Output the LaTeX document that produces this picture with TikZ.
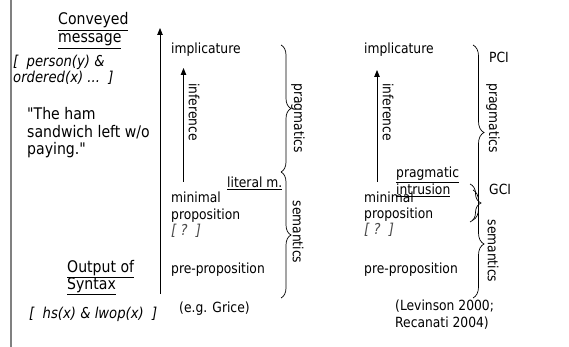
\documentclass[tikz,border=0pt]{standalone}
\usepackage{fontspec}
\setmainfont{DejaVu Sans}[FakeStretch=0.88]
% same face without the TeX input mapping, for straight quotes
\newfontfamily\qfont{DejaVu Sans}[FakeStretch=0.88]
\usetikzlibrary{arrows.meta,decorations.pathreplacing}
\newcommand{\dq}{{\qfont\symbol{"22}}}
\begin{document}
\begin{tikzpicture}[x=1pt,y=-1pt,
  txt/.style={font=\fontsize{14}{17}\selectfont, inner sep=0pt, anchor=base west},
  big/.style={font=\fontsize{16}{18}\selectfont, inner sep=0pt, anchor=base west},
  form/.style={font=\fontsize{15}{16}\selectfont\itshape, inner sep=0pt, anchor=base west},
  query/.style={form, text=black!70},
  vlabel/.style={font=\fontsize{14}{17}\selectfont, inner sep=0pt, rotate=-90},
  uparrow/.style={line width=0.8pt, -{Triangle[length=7pt,width=5.5pt]}},
  bracel/.style={decorate, decoration={brace, amplitude=10pt}, line width=0.7pt},
  bracer/.style={decorate, decoration={brace, amplitude=11pt}, line width=0.7pt}
]
\useasboundingbox (0,0) rectangle (569,347);
\fill[white] (0,0) rectangle (569,347);

% left margin rule
\draw[line width=2pt, black!50] (11,0) -- (11,347);

% left labels
\node[big] (conv) at (58,25) {\underline{Conveyed}};
\node[big] (mess) at (58,43) {\underline{message}};
\node[form] (f1) at (13,67) {[\ \ person(y) \&};
\node[form] (f2) at (13,83) {ordered(x) ...\ \ ]};
\node[big] (q1) at (27,120) {\dq The ham};
\node[big] (q2) at (27,138) {sandwich left w/o};
\node[big] (q3) at (27,155) {paying.\dq};
\node[big] (out) at (67,272) {\underline{Output of}};
\node[big] (syn) at (67,289) {\underline{Syntax}};
\node[form] (f3) at (29,318) {[\ \ hs(x) \& lwop(x)\ \ ]};

% main axis
\coordinate (axb) at (160,294);
\coordinate (axt) at (160,28);
\draw[uparrow] (axb) -- (axt);

% first column (e.g. Grice)
\node[txt] (imp1) at (171,54) {implicature};
\coordinate (inb1) at (183.5,182);
\coordinate (int1) at (183.5,68);
\draw[uparrow] (inb1) -- (int1);
\node[vlabel] (inf1) at (194,112) {inference};
\node[txt] (lit) at (227,188) {\underline{literal m.}};
\node[txt] (min1) at (171,203) {minimal};
\node[txt] (prop1) at (171,219) {proposition};
\node[query] (qq1) at (171,235) {[ ?\ \ ]};
\node[txt] (pre1) at (171,273) {pre-proposition};
\node[txt] (grice) at (179,312) {(e.g. Grice)};

\coordinate (b1a) at (281,45);
\coordinate (b1b) at (281,172);
\coordinate (b1c) at (281,298);
\draw[bracel] (b1a) -- (b1b);
\draw[bracel] (b1b) -- (b1c);
\node[vlabel] (prag1) at (298,118) {pragmatics};
\node[vlabel] (sem1) at (298,232) {semantics};

% second column (Levinson, Recanati)
\node[txt] (imp2) at (364,54) {implicature};
\coordinate (inb2) at (377,182);
\coordinate (int2) at (377,70);
\draw[uparrow] (inb2) -- (int2);
\node[vlabel] (inf2) at (388,112) {inference};
\node[txt] (pin1) at (396,178) {\underline{pragmatic}};
\node[txt] (pin2) at (396,195) {\underline{intrusion}};
\node[txt] (min2) at (364,202) {minimal};
\node[txt] (prop2) at (364,218) {proposition};
\node[query] (qq2) at (364,234) {[ ?\ \ ]};
\node[txt] (pre2) at (364,273) {pre-proposition};
\node[txt, align=left, anchor=north west] (lev) at (395,300) {(Levinson 2000;\\Recanati 2004)};

\coordinate (b2a) at (473,45);
\coordinate (b2b) at (473,220);
\coordinate (g2a) at (470,184);
\coordinate (g2b) at (470,222);
\coordinate (s2a) at (473,190);
\coordinate (s2b) at (473,298);
\draw[bracer] (b2a) -- (b2b);
\draw[bracer] (g2a) -- (g2b);
\draw[bracer] (s2a) -- (s2b);
\node[txt] (pci) at (489,63) {PCI};
\node[txt] (gci) at (489,195) {GCI};
\node[vlabel] (prag2) at (493,118) {pragmatics};
\node[vlabel] (sem2) at (493,251) {semantics};
\end{tikzpicture}
\end{document}
